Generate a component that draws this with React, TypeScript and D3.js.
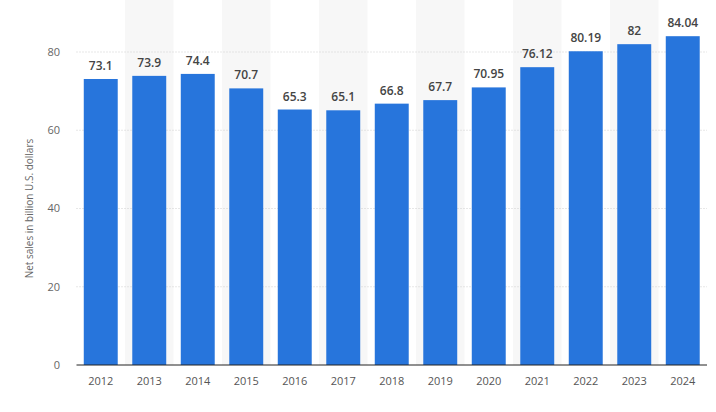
import React from 'react';
import * as d3 from 'd3';

const years = ['2012', '2013', '2014', '2015', '2016', '2017', '2018', '2019', '2020', '2021', '2022', '2023', '2024'];
const sales = [73.1, 73.9, 74.4, 70.7, 65.3, 65.1, 66.8, 67.7, 70.95, 76.12, 80.19, 82, 84.04];
const labels = ['73.1', '73.9', '74.4', '70.7', '65.3', '65.1', '66.8', '67.7', '70.95', '76.12', '80.19', '82', '84.04'];
const yTicks = [0, 20, 40, 60, 80];

const width = 716;
const height = 412;
const margin = { top: 0, right: 9, bottom: 47, left: 76.5 };

const App = () => {
  const x = d3.scaleBand()
    .domain(years)
    .range([margin.left, width - margin.right])
    .paddingInner(0.3)
    .paddingOuter(0.15);

  const y = d3.scaleLinear()
    .domain([0, 80])
    .range([height - margin.bottom, 52]);

  const font = '"Open Sans", "DejaVu Sans", sans-serif';

  return (
    <svg width={width} height={height} style={{ position: 'absolute', left: 0, top: 0, background: '#fff' }}>
      {/* alternating column bands */}
      {years.map((yr, i) => i % 2 === 1 ? (
        <rect key={'band' + yr} x={x(yr)! - x.step() * x.paddingInner() / 2} y={0}
          width={x.step()} height={y(0)} fill="#f7f7f7" />
      ) : null)}

      {/* grid lines */}
      {yTicks.filter(t => t > 0).map(t => (
        <line key={'g' + t} x1={margin.left} x2={width - margin.right} y1={y(t)} y2={y(t)}
          stroke="#cfcfcf" strokeWidth={1} strokeDasharray="1,2" />
      ))}

      {/* y tick labels */}
      {yTicks.map(t => (
        <text key={'t' + t} x={60} y={y(t)} dy="0.35em" textAnchor="end"
          fontFamily={font} fontSize={11} fill="#666">{t}</text>
      ))}

      <text transform={`translate(33,${y(40)}) rotate(-90)`} textAnchor="middle"
        fontFamily={font} fontSize={10} fill="#666">Net sales in billion U.S. dollars</text>

      {/* bars */}
      {years.map((yr, i) => (
        <rect key={'b' + yr} x={x(yr)} y={y(sales[i])} width={x.bandwidth()}
          height={y(0) - y(sales[i])} fill="#2775dc" />
      ))}

      {/* value labels */}
      {years.map((yr, i) => (
        <text key={'v' + yr} x={x(yr)! + x.bandwidth() / 2} y={y(sales[i]) - 9}
          textAnchor="middle" fontFamily={font} fontSize={12} fontWeight={600} fill="#444">{labels[i]}</text>
      ))}

      {/* baseline */}
      <line x1={margin.left} x2={width - margin.right} y1={y(0)} y2={y(0)} stroke="#222" strokeWidth={1} />

      {/* x labels */}
      {years.map(yr => (
        <text key={'x' + yr} x={x(yr)! + x.bandwidth() / 2} y={y(0) + 16} dy="0.35em"
          textAnchor="middle" fontFamily={font} fontSize={11} fill="#555">{yr}</text>
      ))}
    </svg>
  );
};

export default App;
